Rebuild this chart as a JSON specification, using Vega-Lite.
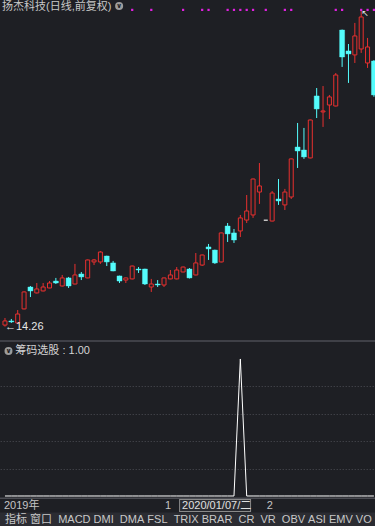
{
  "$schema": "https://vega.github.io/schema/vega-lite/v6.json",
  "width": 375,
  "height": 526,
  "autosize": {"type": "fit", "contains": "padding"},
  "padding": 0,
  "background": "#1e1f24",
  "config": {"view": {"stroke": null}},
  "data": {"values": [
    {"d":"2019-11-27","o":14.37,"h":14.87,"l":14.26,"c":14.66,"sig":0,"dot":0},
    {"d":"2019-11-28","o":14.66,"h":14.8,"l":14.52,"c":14.59,"sig":0,"dot":0},
    {"d":"2019-11-29","o":14.52,"h":15.43,"l":14.47,"c":15.15,"sig":0,"dot":0},
    {"d":"2019-12-02","o":15.51,"h":16.75,"l":15.48,"c":16.71,"sig":0,"dot":0},
    {"d":"2019-12-03","o":17.06,"h":17.13,"l":16.35,"c":16.78,"sig":0,"dot":0},
    {"d":"2019-12-04","o":16.64,"h":17.34,"l":16.6,"c":16.92,"sig":0,"dot":0},
    {"d":"2019-12-05","o":16.78,"h":17.34,"l":16.75,"c":17.06,"sig":0,"dot":0},
    {"d":"2019-12-06","o":16.99,"h":17.48,"l":16.97,"c":17.34,"sig":0,"dot":0},
    {"d":"2019-12-09","o":17.48,"h":17.7,"l":17.27,"c":17.34,"sig":0,"dot":0},
    {"d":"2019-12-10","o":17.13,"h":17.91,"l":17.1,"c":17.7,"sig":0,"dot":0},
    {"d":"2019-12-11","o":17.7,"h":17.77,"l":16.99,"c":17.13,"sig":0,"dot":0},
    {"d":"2019-12-12","o":17.27,"h":18.69,"l":17.25,"c":17.91,"sig":0,"dot":0},
    {"d":"2019-12-13","o":17.98,"h":18.12,"l":17.55,"c":17.77,"sig":0,"dot":0},
    {"d":"2019-12-16","o":17.7,"h":19.0,"l":17.68,"c":18.97,"sig":0,"dot":0},
    {"d":"2019-12-17","o":18.83,"h":19.04,"l":18.61,"c":18.97,"sig":0,"dot":0},
    {"d":"2019-12-18","o":18.83,"h":19.6,"l":18.69,"c":19.53,"sig":0,"dot":0},
    {"d":"2019-12-19","o":19.25,"h":19.27,"l":18.54,"c":18.83,"sig":0,"dot":0},
    {"d":"2019-12-20","o":18.76,"h":18.9,"l":18.17,"c":18.19,"sig":0,"dot":0},
    {"d":"2019-12-23","o":17.84,"h":17.86,"l":17.34,"c":17.48,"sig":0,"dot":0},
    {"d":"2019-12-24","o":17.55,"h":17.72,"l":17.34,"c":17.7,"sig":0,"dot":0},
    {"d":"2019-12-25","o":17.63,"h":18.57,"l":17.6,"c":18.54,"sig":0,"dot":1},
    {"d":"2019-12-26","o":18.33,"h":18.47,"l":18.05,"c":18.26,"sig":0,"dot":0},
    {"d":"2019-12-27","o":18.33,"h":18.35,"l":17.2,"c":17.27,"sig":0,"dot":0},
    {"d":"2019-12-30","o":17.06,"h":17.63,"l":16.71,"c":17.27,"sig":0,"dot":1},
    {"d":"2019-12-31","o":17.27,"h":17.55,"l":17.06,"c":17.2,"sig":0,"dot":0},
    {"d":"2020-01-02","o":17.2,"h":17.72,"l":17.06,"c":17.7,"sig":0,"dot":0},
    {"d":"2020-01-03","o":17.63,"h":18.26,"l":17.6,"c":17.91,"sig":0,"dot":0},
    {"d":"2020-01-06","o":17.63,"h":18.47,"l":17.6,"c":18.26,"sig":0,"dot":0},
    {"d":"2020-01-07","o":18.12,"h":18.5,"l":18.1,"c":18.47,"sig":0,"dot":1},
    {"d":"2020-01-08","o":18.33,"h":18.4,"l":17.66,"c":17.7,"sig":0,"dot":0},
    {"d":"2020-01-09","o":17.91,"h":19.46,"l":17.88,"c":18.76,"sig":0,"dot":0},
    {"d":"2020-01-10","o":18.61,"h":19.35,"l":18.55,"c":19.32,"sig":0,"dot":1},
    {"d":"2020-01-13","o":19.89,"h":20.1,"l":18.97,"c":19.75,"sig":0,"dot":1},
    {"d":"2020-01-14","o":19.67,"h":19.7,"l":18.69,"c":18.76,"sig":0,"dot":0},
    {"d":"2020-01-15","o":18.83,"h":20.9,"l":18.8,"c":20.88,"sig":0,"dot":0},
    {"d":"2020-01-16","o":21.37,"h":21.58,"l":20.24,"c":20.81,"sig":0,"dot":1},
    {"d":"2020-01-17","o":20.88,"h":21.16,"l":20.17,"c":20.38,"sig":0,"dot":1},
    {"d":"2020-01-20","o":21.02,"h":22.15,"l":20.59,"c":21.94,"sig":1,"dot":1},
    {"d":"2020-01-21","o":21.79,"h":23.56,"l":21.58,"c":22.43,"sig":0,"dot":1},
    {"d":"2020-01-22","o":22.15,"h":24.72,"l":21.94,"c":24.69,"sig":0,"dot":1},
    {"d":"2020-01-23","o":23.77,"h":25.82,"l":22.93,"c":24.2,"sig":0,"dot":0},
    {"d":"2020-02-03","o":21.78,"h":21.78,"l":21.78,"c":21.78,"sig":0,"dot":1},
    {"d":"2020-02-04","o":21.72,"h":23.84,"l":21.7,"c":23.7,"sig":0,"dot":0},
    {"d":"2020-02-05","o":23.28,"h":24.69,"l":22.86,"c":23.14,"sig":0,"dot":0},
    {"d":"2020-02-06","o":22.86,"h":23.99,"l":22.5,"c":23.77,"sig":0,"dot":1},
    {"d":"2020-02-07","o":23.42,"h":26.14,"l":23.28,"c":26.11,"sig":0,"dot":1},
    {"d":"2020-02-10","o":26.95,"h":28.65,"l":25.47,"c":26.67,"sig":0,"dot":0},
    {"d":"2020-02-11","o":26.74,"h":28.3,"l":26.11,"c":26.25,"sig":0,"dot":0},
    {"d":"2020-02-12","o":26.18,"h":28.89,"l":26.15,"c":28.86,"sig":0,"dot":0},
    {"d":"2020-02-13","o":30.56,"h":31.12,"l":29.0,"c":29.64,"sig":0,"dot":0},
    {"d":"2020-02-14","o":29.43,"h":31.26,"l":28.37,"c":29.5,"sig":0,"dot":0},
    {"d":"2020-02-17","o":29.92,"h":30.63,"l":28.93,"c":30.49,"sig":0,"dot":0},
    {"d":"2020-02-18","o":29.85,"h":32.18,"l":29.82,"c":32.04,"sig":0,"dot":1},
    {"d":"2020-02-19","o":35.22,"h":35.25,"l":32.61,"c":33.31,"sig":0,"dot":1},
    {"d":"2020-02-20","o":33.74,"h":34.23,"l":31.48,"c":33.53,"sig":0,"dot":0},
    {"d":"2020-02-21","o":33.46,"h":35.72,"l":32.89,"c":34.8,"sig":0,"dot":0},
    {"d":"2020-02-24","o":33.88,"h":36.64,"l":33.6,"c":36.14,"sig":0,"dot":1},
    {"d":"2020-02-25","o":32.89,"h":34.66,"l":32.54,"c":34.02,"sig":0,"dot":1},
    {"d":"2020-02-26","o":33.03,"h":33.1,"l":30.5,"c":30.63,"sig":0,"dot":1}
  ]},
  "layer": [
    {
      "layer": [
        {
          "data": {"values": [{}]},
          "mark": {"type": "rect", "color": "#2b2c32", "clip": true},
          "encoding": {
            "y": {"datum": 1.124, "type": "quantitative", "scale": {"domain": [0.17, 37.34], "nice": false, "zero": false}, "axis": {"values": [16,18,20,22,24,26,28,30,32,34,36], "grid": true, "gridColor": "#4e4f56", "gridDash": [1,2], "gridWidth": 1, "labels": false, "ticks": false, "domain": false, "title": null, "minExtent": 0, "maxExtent": 0}},
            "y2": {"datum": 0.1}
          }
        },
        {
          "mark": {"type": "rule", "strokeWidth": 1, "clip": true},
          "encoding": {
            "x": {"field": "d", "type": "ordinal", "axis": null, "scale": {"type": "band", "range": [1.8, 377.1], "paddingInner": 0, "paddingOuter": 0}},
            "y": {"field": "l", "type": "quantitative", "scale": {"domain": [0.17, 37.34], "nice": false, "zero": false}, "axis": null},
            "y2": {"field": "h"},
            "color": {"condition": [{"test": "datum.h == datum.l", "value": "#c4c4c4"}, {"test": "datum.c >= datum.o", "value": "#e8302f"}], "value": "#54fcfc"}
          }
        },
        {
          "transform": [{"filter": "datum.c >= datum.o && datum.h > datum.l"}],
          "mark": {"type": "bar", "width": 4, "fill": "#1e1f24", "stroke": "#e8302f", "strokeWidth": 1, "clip": true},
          "encoding": {
            "x": {"field": "d", "type": "ordinal", "axis": null},
            "y": {"field": "o", "type": "quantitative", "scale": {"domain": [0.17, 37.34], "nice": false, "zero": false}, "axis": null},
            "y2": {"field": "c"}
          }
        },
        {
          "transform": [{"filter": "datum.c < datum.o"}],
          "mark": {"type": "bar", "width": 5, "fill": "#54fcfc", "stroke": "#54fcfc", "strokeWidth": 0.4, "clip": true},
          "encoding": {
            "x": {"field": "d", "type": "ordinal", "axis": null},
            "y": {"field": "o", "type": "quantitative", "scale": {"domain": [0.17, 37.34], "nice": false, "zero": false}, "axis": null},
            "y2": {"field": "c"}
          }
        },
        {
          "transform": [{"filter": "datum.h == datum.l"}],
          "mark": {"type": "bar", "width": 4, "fill": "#c4c4c4", "stroke": "#c4c4c4", "strokeWidth": 1.5, "clip": true},
          "encoding": {
            "x": {"field": "d", "type": "ordinal", "axis": null},
            "y": {"field": "o", "type": "quantitative", "scale": {"domain": [0.17, 37.34], "nice": false, "zero": false}, "axis": null},
            "y2": {"field": "c"}
          }
        },
        {
          "transform": [{"filter": "datum.dot == 1"}],
          "mark": {"type": "point", "shape": "square", "filled": true, "size": 5, "color": "#e020e0", "opacity": 1, "clip": true},
          "encoding": {
            "x": {"field": "d", "type": "ordinal", "axis": null},
            "y": {"datum": 36.64, "type": "quantitative", "scale": {"domain": [0.17, 37.34], "nice": false, "zero": false}, "axis": null}
          }
        },
        {
          "data": {"values": [{}]},
          "mark": {"type": "text", "text": "←14.26", "align": "left", "baseline": "middle", "fontSize": 11, "font": "Liberation Sans, DejaVu Sans", "color": "#e6e6e6"},
          "encoding": {
            "x": {"datum": "2019-11-27", "type": "ordinal", "axis": null},
            "y": {"datum": 14.26, "type": "quantitative", "scale": {"domain": [0.17, 37.34], "nice": false, "zero": false}, "axis": null}
          }
        },
        {
          "data": {"values": [{}]},
          "mark": {"type": "text", "text": "↖", "align": "left", "baseline": "top", "fontSize": 9, "font": "DejaVu Sans", "color": "#e6e6e6", "dy": -1, "clip": true},
          "encoding": {
            "x": {"datum": "2020-02-24", "type": "ordinal", "axis": null},
            "y": {"datum": 36.64, "type": "quantitative", "scale": {"domain": [0.17, 37.34], "nice": false, "zero": false}, "axis": null}
          }
        },
        {
          "data": {"values": [{}]},
          "mark": {"type": "text", "text": "扬杰科技(日线,前复权)", "align": "left", "baseline": "alphabetic", "fontSize": 11, "font": "Liberation Sans, Noto Sans CJK SC", "color": "#c8c8c8", "xOffset": -3},
          "encoding": {
            "x": {"datum": "2019-11-27", "type": "ordinal", "axis": null},
            "y": {"datum": 36.6, "type": "quantitative", "scale": {"domain": [0.17, 37.34], "nice": false, "zero": false}, "axis": null}
          }
        },
        {
          "data": {"values": [{}]},
          "mark": {"type": "point", "shape": "circle", "filled": true, "size": 64, "color": "#9c9c9c", "opacity": 1, "xOffset": 6, "clip": true},
          "encoding": {
            "x": {"datum": "2019-12-20", "type": "ordinal", "axis": null},
            "y": {"datum": 36.92, "type": "quantitative", "scale": {"domain": [0.17, 37.34], "nice": false, "zero": false}, "axis": null}
          }
        },
        {
          "data": {"values": [{}]},
          "mark": {"type": "text", "text": "∨", "align": "center", "baseline": "middle", "fontSize": 7, "fontWeight": "bold", "font": "DejaVu Sans", "color": "#1e1f24", "xOffset": 6},
          "encoding": {
            "x": {"datum": "2019-12-20", "type": "ordinal", "axis": null},
            "y": {"datum": 36.92, "type": "quantitative", "scale": {"domain": [0.17, 37.34], "nice": false, "zero": false}, "axis": null}
          }
        },
        {
          "data": {"values": [{}]},
          "mark": {"type": "rule", "color": "#4b4c53", "strokeWidth": 1.5, "clip": true},
          "encoding": {
            "y": {"datum": 13.244, "type": "quantitative", "scale": {"domain": [0.17, 37.34], "nice": false, "zero": false}, "axis": null}
          }
        },
        {
          "data": {"values": [{}]},
          "mark": {"type": "point", "shape": "circle", "filled": true, "size": 64, "color": "#9c9c9c", "opacity": 1, "xOffset": 3.5},
          "encoding": {
            "x": {"datum": "2019-11-27", "type": "ordinal", "axis": null},
            "y": {"datum": 12.537, "type": "quantitative", "scale": {"domain": [0.17, 37.34], "nice": false, "zero": false}, "axis": null}
          }
        },
        {
          "data": {"values": [{}]},
          "mark": {"type": "text", "text": "∨", "align": "center", "baseline": "middle", "fontSize": 7, "fontWeight": "bold", "font": "DejaVu Sans", "color": "#1e1f24", "xOffset": 3.5},
          "encoding": {
            "x": {"datum": "2019-11-27", "type": "ordinal", "axis": null},
            "y": {"datum": 12.537, "type": "quantitative", "scale": {"domain": [0.17, 37.34], "nice": false, "zero": false}, "axis": null}
          }
        },
        {
          "data": {"values": [{}]},
          "mark": {"type": "text", "text": "筹码选股 : 1.00", "align": "left", "baseline": "middle", "fontSize": 11, "font": "Liberation Sans, Noto Sans CJK SC", "color": "#d4d4d4", "xOffset": 4},
          "encoding": {
            "x": {"datum": "2019-11-28", "type": "ordinal", "axis": null},
            "y": {"datum": 12.537, "type": "quantitative", "scale": {"domain": [0.17, 37.34], "nice": false, "zero": false}, "axis": null}
          }
        },
        {
          "data": {"values": [{}]},
          "mark": {"type": "rule", "color": "#4b4c53", "strokeWidth": 1.5, "clip": true},
          "encoding": {
            "y": {"datum": 2.13, "type": "quantitative", "scale": {"domain": [0.17, 37.34], "nice": false, "zero": false}, "axis": null}
          }
        },
        {
          "data": {"values": [{}]},
          "mark": {"type": "text", "text": "2019年", "align": "left", "baseline": "middle", "fontSize": 11, "font": "Liberation Sans, Noto Sans CJK SC", "color": "#c4c4c4", "xOffset": -1},
          "encoding": {
            "x": {"datum": "2019-11-27", "type": "ordinal", "axis": null},
            "y": {"datum": 1.583, "type": "quantitative", "scale": {"domain": [0.17, 37.34], "nice": false, "zero": false}, "axis": null}
          }
        },
        {
          "data": {"values": [{}]},
          "mark": {"type": "text", "text": "1", "align": "left", "baseline": "middle", "fontSize": 11, "font": "Liberation Sans", "color": "#c4c4c4", "xOffset": 1},
          "encoding": {
            "x": {"datum": "2020-01-02", "type": "ordinal", "axis": null},
            "y": {"datum": 1.583, "type": "quantitative", "scale": {"domain": [0.17, 37.34], "nice": false, "zero": false}, "axis": null}
          }
        },
        {
          "data": {"values": [{}]},
          "mark": {"type": "text", "text": "2", "align": "left", "baseline": "middle", "fontSize": 11, "font": "Liberation Sans", "color": "#c4c4c4", "xOffset": 1},
          "encoding": {
            "x": {"datum": "2020-02-03", "type": "ordinal", "axis": null},
            "y": {"datum": 1.583, "type": "quantitative", "scale": {"domain": [0.17, 37.34], "nice": false, "zero": false}, "axis": null}
          }
        },
        {
          "data": {"values": [{}]},
          "mark": {"type": "rule", "color": "#8a8a8a", "strokeWidth": 13, "xOffset": -4, "x2Offset": -2},
          "encoding": {
            "x": {"datum": "2020-01-07", "type": "ordinal", "axis": null},
            "x2": {"datum": "2020-01-22"},
            "y": {"datum": 1.617, "type": "quantitative", "scale": {"domain": [0.17, 37.34], "nice": false, "zero": false}, "axis": null}
          }
        },
        {
          "data": {"values": [{}]},
          "mark": {"type": "rule", "color": "#2a2b31", "strokeWidth": 11, "xOffset": -3, "x2Offset": -3},
          "encoding": {
            "x": {"datum": "2020-01-07", "type": "ordinal", "axis": null},
            "x2": {"datum": "2020-01-22"},
            "y": {"datum": 1.617, "type": "quantitative", "scale": {"domain": [0.17, 37.34], "nice": false, "zero": false}, "axis": null}
          }
        },
        {
          "data": {"values": [{}]},
          "mark": {"type": "text", "text": "2020/01/07/二", "align": "left", "baseline": "middle", "fontSize": 11, "font": "Liberation Sans, Noto Sans CJK SC", "color": "#e0e0e0", "xOffset": -1},
          "encoding": {
            "x": {"datum": "2020-01-07", "type": "ordinal", "axis": null},
            "y": {"datum": 1.583, "type": "quantitative", "scale": {"domain": [0.17, 37.34], "nice": false, "zero": false}, "axis": null}
          }
        },
        {
          "data": {"values": [{}]},
          "mark": {"type": "text", "text": "指标\u00a0窗口\u00a0\u00a0MACD\u00a0DMI\u00a0\u00a0DMA\u00a0FSL\u00a0\u00a0TRIX\u00a0BRAR\u00a0\u00a0CR\u00a0\u00a0VR\u00a0\u00a0OBV\u00a0ASI\u00a0EMV\u00a0VO", "align": "left", "baseline": "middle", "fontSize": 11, "font": "Liberation Sans, Noto Sans CJK SC", "color": "#c8c8c8", "clip": true},
          "encoding": {
            "x": {"datum": "2019-11-27", "type": "ordinal", "axis": null},
            "y": {"datum": 0.629, "type": "quantitative", "scale": {"domain": [0.17, 37.34], "nice": false, "zero": false}, "axis": null}
          }
        }
      ]
    },
    {
      "layer": [
        {
          "mark": {"type": "line", "color": "#ffffff", "strokeWidth": 1, "clip": true},
          "encoding": {
            "x": {"field": "d", "type": "ordinal", "axis": null},
            "y": {"field": "sig", "type": "quantitative", "scale": {"domain": [-0.219, 3.62], "nice": false, "zero": false},
                  "axis": {"values": [0.2,0.4,0.6,0.8], "grid": true, "gridColor": "#4e4f56", "gridDash": [1,2], "gridWidth": 1, "labels": false, "ticks": false, "domain": false, "title": null, "minExtent": 0, "maxExtent": 0, "orient": "right"}}
          }
        }
      ]
    }
  ],
  "resolve": {"scale": {"y": "independent"}, "axis": {"y": "independent"}}
}
